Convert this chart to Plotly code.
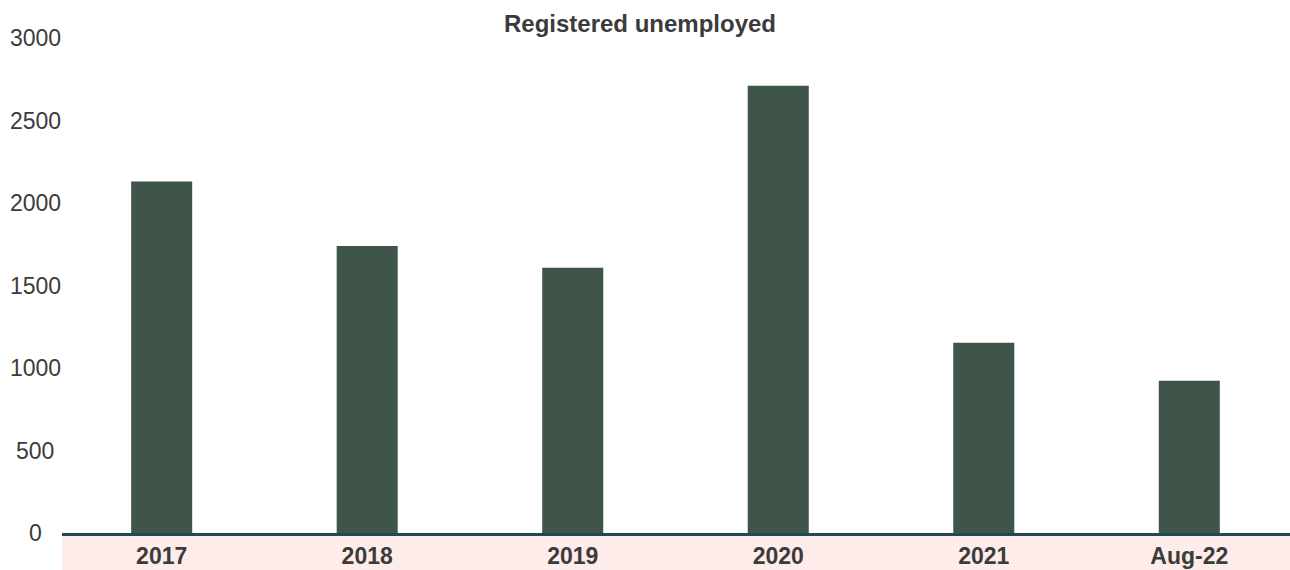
import plotly.graph_objects as go

categories = ["2017", "2018", "2019", "2020", "2021", "Aug-22"]
values = [2130, 1740, 1608, 2710, 1153, 922]
y_ticks = [0, 500, 1000, 1500, 2000, 2500, 3000]

FONT = "Liberation Sans, Arial, Helvetica, sans-serif"
TEXT = "#3b3b3b"

fig = go.Figure()
fig.add_trace(go.Bar(x=categories, y=values, marker=dict(color="#40554a", line=dict(width=0))))

W, H = 1290, 570
ml, mr, mt, mb = 62, 0, 38, 37
plot_w = W - ml - mr

annotations = []
for t in y_ticks:
    annotations.append(dict(x=(35 - ml) / plot_w, xref="paper", y=t, yref="y",
                            text=str(t), showarrow=False, xanchor="center", yanchor="middle",
                            font=dict(family=FONT, size=23, color=TEXT)))

fig.update_layout(
    width=W, height=H,
    margin=dict(l=ml, r=mr, t=mt, b=mb, pad=0),
    paper_bgcolor="white", plot_bgcolor="white",
    showlegend=False,
    bargap=0.703,
    title=dict(text="<b>Registered unemployed</b>", x=640 / W, xanchor="center",
               y=1 - 24 / H, yanchor="middle",
               font=dict(family=FONT, size=24, color=TEXT)),
    xaxis=dict(showgrid=False, showline=True, linecolor="#1e4a55", linewidth=3,
               range=[-0.485, 5.49],
               ticks="", tickfont=dict(family=FONT, size=23, color=TEXT, weight="bold"),
               zeroline=False),
    yaxis=dict(range=[0, 3000], showgrid=False, showticklabels=False, zeroline=False,
               showline=False, ticks=""),
    shapes=[dict(type="rect", xref="paper", yref="paper", x0=0, x1=1, y0=0, y1=-0.08,
                 fillcolor="#fdecea", line=dict(width=0), layer="below")],
    annotations=annotations,
)

fig.write_html(
    "out.html",
    config={"displayModeBar": False},
    post_script="document.body.style.margin='0';document.body.style.overflow='hidden';",
)
